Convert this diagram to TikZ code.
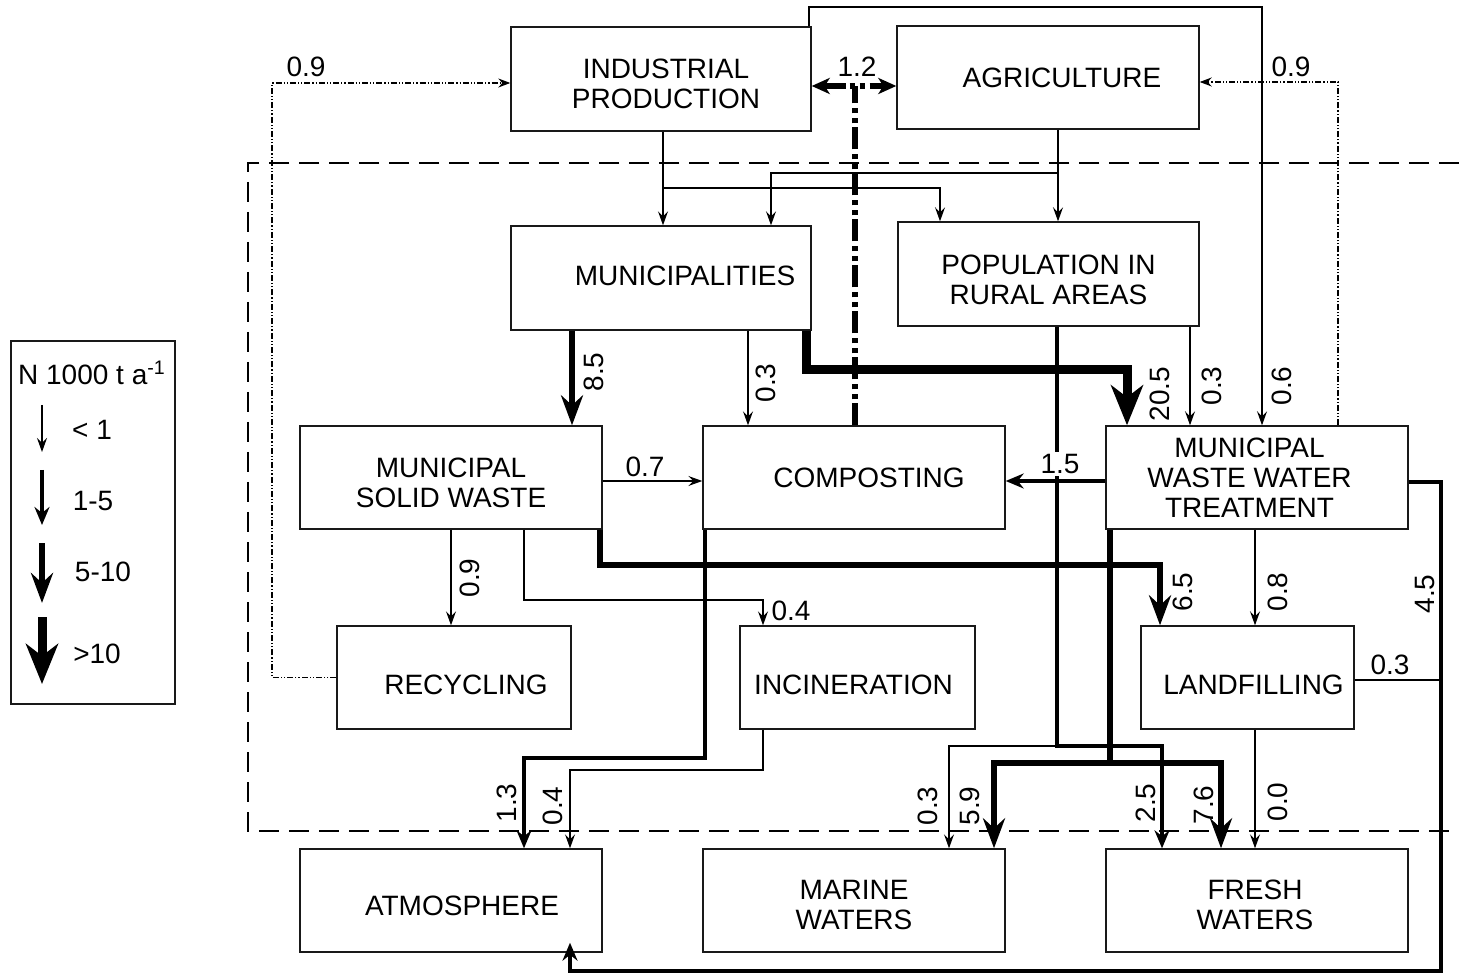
\documentclass[tikz,border=0pt]{standalone}
\usepackage{fontspec}
\setmainfont{Liberation Sans}
\usetikzlibrary{arrows.meta,calc}
\newcommand\flowfont{\fontsize{14pt}{15pt}\selectfont}

\begin{document}
\begin{tikzpicture}[x=0.5pt,y=-0.5pt,font=\flowfont,
    box/.style={draw=black!90,line width=0.7pt,minimum height=51.5pt,inner sep=0pt},
    txt/.style={align=center,inner sep=0pt},
    num/.style={inner sep=1pt},
    vnum/.style={num,rotate=90},
    f1/.style={line width=0.6pt,-{Stealth[length=7pt,width=5pt,inset=2.5pt]}},
    f2/.style={line width=1.8pt,-{Stealth[length=9pt,width=7.5pt,inset=3pt]}},
    f3/.style={line width=3pt,-{Stealth[length=15pt,width=11pt,inset=5pt]}},
    f4/.style={line width=4.5pt,-{Stealth[length=20pt,width=16pt,inset=6pt]}},
    ret/.style={line width=0.6pt,dash pattern=on 3pt off 1pt on 0.6pt off 1pt on 0.6pt off 1pt,
                -{Stealth[length=6pt,width=4.5pt,inset=2pt]}},
    cmpl/.style={line width=2.6pt,dash pattern=on 11pt off 2pt on 2.5pt off 2.5pt on 2.5pt off 2.5pt},
    sysb/.style={line width=1pt,dash pattern=on 10pt off 5pt}]
  \useasboundingbox (0,0) rectangle (1459,977);

  % system boundary
  \draw[sysb] (1459,163) -| (248,831) -- (1459,831);

  % sectors and compartments
  \node[box,minimum width=150pt,minimum height=52pt,
        label={[txt,xshift=2.5pt,yshift=-2.5pt]center:INDUSTRIAL\\PRODUCTION}] (ind) at (661,79) {};
  \node[box,minimum width=151pt,label={[txt,xshift=7pt]center:AGRICULTURE}] (agr) at (1048,77.5) {};
  \node[box,minimum width=150pt,minimum height=52pt,
        label={[txt,xshift=12pt,yshift=1pt]center:MUNICIPALITIES}] (mun) at (661,278) {};
  \node[box,minimum width=150.5pt,minimum height=52pt,
        label={[txt,yshift=-3pt]center:POPULATION IN\\RURAL AREAS}] (pop) at (1048.5,274) {};
  \node[box,minimum width=151pt,label={[txt,yshift=-2.75pt]center:MUNICIPAL\\SOLID WASTE}] (msw) at (451,477.5) {};
  \node[box,minimum width=151pt,label={[txt,xshift=7.5pt]center:COMPOSTING}] (cmp) at (854,477.5) {};
  \node[box,minimum width=151pt,
        label={[txt,xshift=-3.75pt]center:MUNICIPAL\\WASTE WATER\\TREATMENT}] (ww) at (1257,477.5) {};
  \node[box,minimum width=117pt,label={[txt,xshift=6pt,yshift=-3.75pt]center:RECYCLING}] (rec) at (454,677.5) {};
  \node[box,minimum width=117.5pt,label={[txt,xshift=-2pt,yshift=-3.75pt]center:INCINERATION}] (inc) at (857.5,677.5) {};
  \node[box,minimum width=106.5pt,label={[txt,xshift=3pt,yshift=-3.75pt]center:LANDFILLING}] (lnd) at (1247.5,677.5) {};
  \node[box,minimum width=151pt,label={[txt,xshift=5.5pt,yshift=-2.75pt]center:ATMOSPHERE}] (atm) at (451,900.5) {};
  \node[box,minimum width=151pt,label={[txt,yshift=-2pt]center:MARINE\\WATERS}] (mar) at (854,900.5) {};
  \node[box,minimum width=151pt,label={[txt,xshift=-1pt,yshift=-2pt]center:FRESH\\WATERS}] (frs) at (1257,900.5) {};

  % junctions
  \coordinate (jind) at (663,188);
  \coordinate (jagr) at (1058,173);
  \coordinate (jcmp) at (855,86);
  \coordinate (jpop) at (1057,746);
  \coordinate (jww) at (1110,763);
  \coordinate (jlnd) at (1441,680);

  % inputs to households
  \draw[f1] (ind.south -| jind) -- (mun.north -| jind);
  \draw[f1] (jind) -| (pop.north -| 940,0);
  \draw[f1] (agr.south -| jagr) -- (pop.north -| jagr);
  \draw[f1] (jagr) -| (mun.north -| 771,0);
  \draw[f1] (ind.north -| 809,0) |- (1262,7) -- (ww.north -| 1262,0);

  % compost back to production
  \draw[cmpl,{Stealth[length=9pt,width=8pt,inset=2.5pt]}-{Stealth[length=9pt,width=8pt,inset=2.5pt]}]
    (ind.east |- jcmp) -- (agr.west |- jcmp);
  \draw[cmpl] (cmp.north -| jcmp) -- (jcmp);

  % recycled flows
  \draw[ret] (rec.west) -| (272,83) -- (ind.west |- 272,83);
  \draw[ret] (ww.north -| 1338,0) -- (1338,82) -- (agr.east |- 1338,82);

  % municipalities and rural population
  \draw[f3] (mun.south -| 572,0) -- (msw.north -| 572,0);
  \draw[f1] (mun.south -| 748,0) -- (cmp.north -| 748,0);
  \draw[f4] (mun.south -| 806,0) |- (1127,370) -- (ww.north -| 1127,0);
  \draw[f1] (pop.south -| 1190,0) -- (ww.north -| 1190,0);
  \draw[f2] (pop.south -| jpop) -- (jpop) -| (frs.north -| 1162,0);
  \draw[f1] (jpop) -| (mar.north -| 949,0);

  % solid waste
  \draw[f1] (msw.east |- 0,481) -- (cmp.west |- 0,481);
  \draw[f1] (msw.south -| 451,0) -- (rec.north -| 451,0);
  \draw[f3] (msw.south -| 600,0) |- (1160,565) -- (lnd.north -| 1160,0);
  \draw[f1] (msw.south -| 524,0) |- (763,600) -- (inc.north -| 763,0);

  % treatment
  \draw[f2] (ww.west |- 0,481) -- (cmp.east |- 0,481);
  \draw[f1] (ww.south -| 1255,0) -- (lnd.north -| 1255,0);
  \draw[f3] (ww.south -| jww) -- (jww) -| (mar.north -| 994,0);
  \draw[f3] (jww) -| (frs.north -| 1221,0);
  \draw[f2] (ww.east |- 0,482) -| (1441,971) -| ([yshift=5pt]atm.south -| 570,0);

  % to the environment
  \draw[line width=0.6pt] (lnd.east |- jlnd) -- (jlnd);
  \draw[f1] (lnd.south -| 1255,0) -- (frs.north -| 1255,0);
  \draw[f2] (cmp.south -| 705,0) |- (524,758) -- (atm.north -| 524,0);
  \draw[f1] (inc.south -| 763,0) |- (570,770) -- (atm.north -| 570,0);

  % flow values
  \node[num] (v-rec-ind) at (306,67) {0.9};
  \node[num] (v-cmp) at (857,67) {1.2};
  \node[num] (v-ww-agr) at (1291,67) {0.9};
  \node[vnum] (v-mun-msw) at (594,372) {8.5};
  \node[vnum] (v-mun-cmp) at (766,383) {0.3};
  \node[vnum] (v-mun-ww) at (1160,394) {20.5};
  \node[vnum] (v-pop-ww) at (1212,386) {0.3};
  \node[vnum] (v-ind-ww) at (1282,386) {0.6};
  \node[num] (v-msw-cmp) at (645,467) {0.7};
  \node[num,fill=white] (v-ww-cmp) at (1060,464) {1.5};
  \node[vnum] (v-msw-rec) at (470,578) {0.9};
  \node[vnum] (v-msw-lnd) at (1183,592) {6.5};
  \node[vnum] (v-ww-lnd) at (1278,592) {0.8};
  \node[vnum] (v-ww-atm) at (1425,594) {4.5};
  \node[num] (v-msw-inc) at (791,611) {0.4};
  \node[num] (v-lnd-atm) at (1390,665) {0.3};
  \node[vnum] (v-cmp-atm) at (507,803) {1.3};
  \node[vnum] (v-inc-atm) at (553,806) {0.4};
  \node[vnum] (v-pop-mar) at (928,806) {0.3};
  \node[vnum] (v-ww-mar) at (970,806) {5.9};
  \node[vnum] (v-pop-frs) at (1146,803) {2.5};
  \node[vnum] (v-ww-frs) at (1204,805) {7.6};
  \node[vnum] (v-lnd-frs) at (1278,802) {0.0};

  % legend
  \node[box,minimum width=82pt,minimum height=181.5pt] (leg) at (93,522.5) {};
  \node[num] (leg-t) at (92,373) {N 1000 t a\textsuperscript{-1}};
  \foreach \st/\ya/\yb/\ly/\lx/\lab [count=\i] in
      {f1/405/452/430/92/{< 1},f2/470/525/501/93/1-5,f3/543/603/572/103/5-10,f4/617/684/654/97/{>10}}{
    \coordinate (leg-a\i) at (42,\ya);
    \coordinate (leg-b\i) at (42,\yb);
    \draw[\st] (leg-a\i) -- (leg-b\i);
    \node[num] (leg-l\i) at (\lx,\ly) {\lab};
  }
\end{tikzpicture}
\end{document}
